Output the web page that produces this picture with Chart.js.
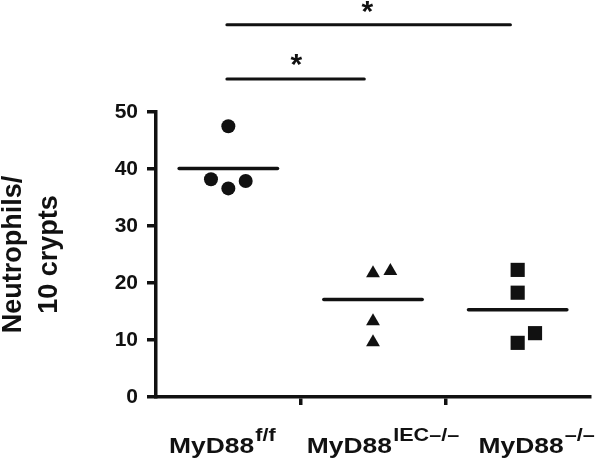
<!DOCTYPE html>
<html>
<head>
<meta charset="utf-8">
<script src="https://cdn.jsdelivr.net/npm/chart.js@4"></script>
<style>
  html, body { margin: 0; padding: 0; background: #fff; }
  #wrap { width: 600px; height: 465px; }
</style>
</head>
<body>
<div id="wrap"><canvas id="neutroChart" width="600" height="465"></canvas></div>
<script>
// category labels (main text + superscript)
const categories = ['MyD88', 'MyD88', 'MyD88'];
const superscripts = ['f/f', 'IEC\u2013/\u2013', '\u2013/\u2013'];

// individual animals (x = jittered category position, y = neutrophils / 10 crypts)
const ffX = [0.5, 0.38, 0.5, 0.62];
const ffY = [47.5, 38.2, 36.6, 37.9];
const iecX = [1.5, 1.62, 1.5, 1.5];
const iecY = [21.7, 22.1, 13.3, 9.6];
const koX = [2.5, 2.5, 2.5, 2.62];
const koY = [22.3, 18.3, 9.5, 11.2];

// group means (horizontal bars)
const meanX = [0.5, 1.5, 2.5];
const means = [40.1, 17.1, 15.3];

// significance brackets and stars
const bracketFrom = [0.49, 0.49];
const bracketTo = [2.45, 1.44];
const bracketY = [65.3, 55.8];
const starX = [1.46, 0.97];
const starY = [68.6, 59.3];

const yTicks = [0, 10, 20, 30, 40, 50];

const ink = '#111';
Chart.defaults.font.family = "'Liberation Sans', Arial, sans-serif";
Chart.defaults.color = ink;

function pts(xs, ys) {
    return xs.map((x, i) => ({ x: x, y: ys[i] }));
}

const datasets = [
    { data: pts(ffX, ffY), pointStyle: 'circle', pointRadius: 7, backgroundColor: ink, borderWidth: 0 },
    { data: pts(iecX, iecY), pointStyle: 'triangle', pointRadius: 8, backgroundColor: ink, borderWidth: 0 },
    { data: pts(koX, koY), pointStyle: 'rect', pointRadius: 10, backgroundColor: ink, borderWidth: 0 }
];

means.forEach((m, i) => {
    datasets.push({
        type: 'line',
        data: [{ x: meanX[i] - 0.34, y: m }, { x: meanX[i] + 0.34, y: m }],
        borderColor: ink, borderWidth: 3.5, pointRadius: 0, showLine: true,
        borderCapStyle: 'round'
    });
});

bracketY.forEach((b, i) => {
    datasets.push({
        type: 'line',
        data: [{ x: bracketFrom[i], y: b }, { x: bracketTo[i], y: b }],
        borderColor: ink, borderWidth: 3, pointRadius: 0, showLine: true,
        borderCapStyle: 'round', clip: false
    });
});

// draws the category labels with superscripts and the significance stars
const labelPlugin = {
    id: 'labelPlugin',
    afterDraw(chart) {
        const ctx = chart.ctx;
        const xs = chart.scales.x;
        const ys = chart.scales.y;
        const stretch = 1.2;
        const nudge = [-6, 10, 19];
        ctx.save();
        ctx.fillStyle = ink;
        ctx.textBaseline = 'alphabetic';
        categories.forEach((cat, i) => {
            const cx = xs.getPixelForValue(meanX[i]) + nudge[i];
            ctx.font = "bold 22px 'Liberation Sans', Arial, sans-serif";
            const w1 = ctx.measureText(cat).width;
            ctx.font = "bold 18px 'Liberation Sans', Arial, sans-serif";
            const w2 = ctx.measureText(superscripts[i]).width;
            const total = (w1 + w2 + 1) * stretch;
            ctx.save();
            ctx.translate(cx - total / 2, 453);
            ctx.scale(stretch, 1);
            ctx.font = "bold 22px 'Liberation Sans', Arial, sans-serif";
            ctx.textAlign = 'left';
            ctx.fillText(cat, 0, 0);
            ctx.font = "bold 18px 'Liberation Sans', Arial, sans-serif";
            ctx.fillText(superscripts[i], w1 + 1, -12);
            ctx.restore();
        });
        ctx.font = "bold 30px 'Liberation Sans', Arial, sans-serif";
        ctx.textAlign = 'center';
        starX.forEach((sx, i) => {
            ctx.fillText('*', xs.getPixelForValue(sx), ys.getPixelForValue(starY[i]) + 15);
        });
        ctx.restore();
    }
};

new Chart(document.getElementById('neutroChart'), {
    type: 'scatter',
    data: { datasets: datasets },
    options: {
        responsive: false,
        animation: false,
        layout: { padding: { top: 112, right: 5, left: 0, bottom: 0 } },
        plugins: { legend: { display: false }, tooltip: { enabled: false } },
        scales: {
            x: {
                type: 'linear',
                min: 0,
                max: 3,
                afterBuildTicks: (scale) => { scale.ticks = [{ value: 1 }, { value: 2 }]; },
                afterFit: (scale) => { scale.height = 68; },
                ticks: { display: false },
                grid: { drawOnChartArea: false, drawTicks: true, tickLength: 8, color: ink, lineWidth: 3.5 },
                border: { display: true, color: ink, width: 3.5 }
            },
            y: {
                min: 0,
                max: 50,
                afterBuildTicks: (scale) => { scale.ticks = yTicks.map(v => ({ value: v })); },
                afterFit: (scale) => { scale.width = 156; },
                ticks: { font: { size: 21, weight: 'bold' }, color: ink, padding: 9 },
                grid: { drawOnChartArea: false, drawTicks: true, tickLength: 9, color: ink, lineWidth: 3.5 },
                border: { display: true, color: ink, width: 3.5 },
                title: {
                    display: true,
                    text: ['Neutrophils/', '10 crypts'],
                    font: { size: 27, weight: 'bold', lineHeight: 1.33 },
                    color: ink,
                    padding: { top: -4, bottom: 0 }
                }
            }
        }
    },
    plugins: [labelPlugin]
});
</script>
</body>
</html>
